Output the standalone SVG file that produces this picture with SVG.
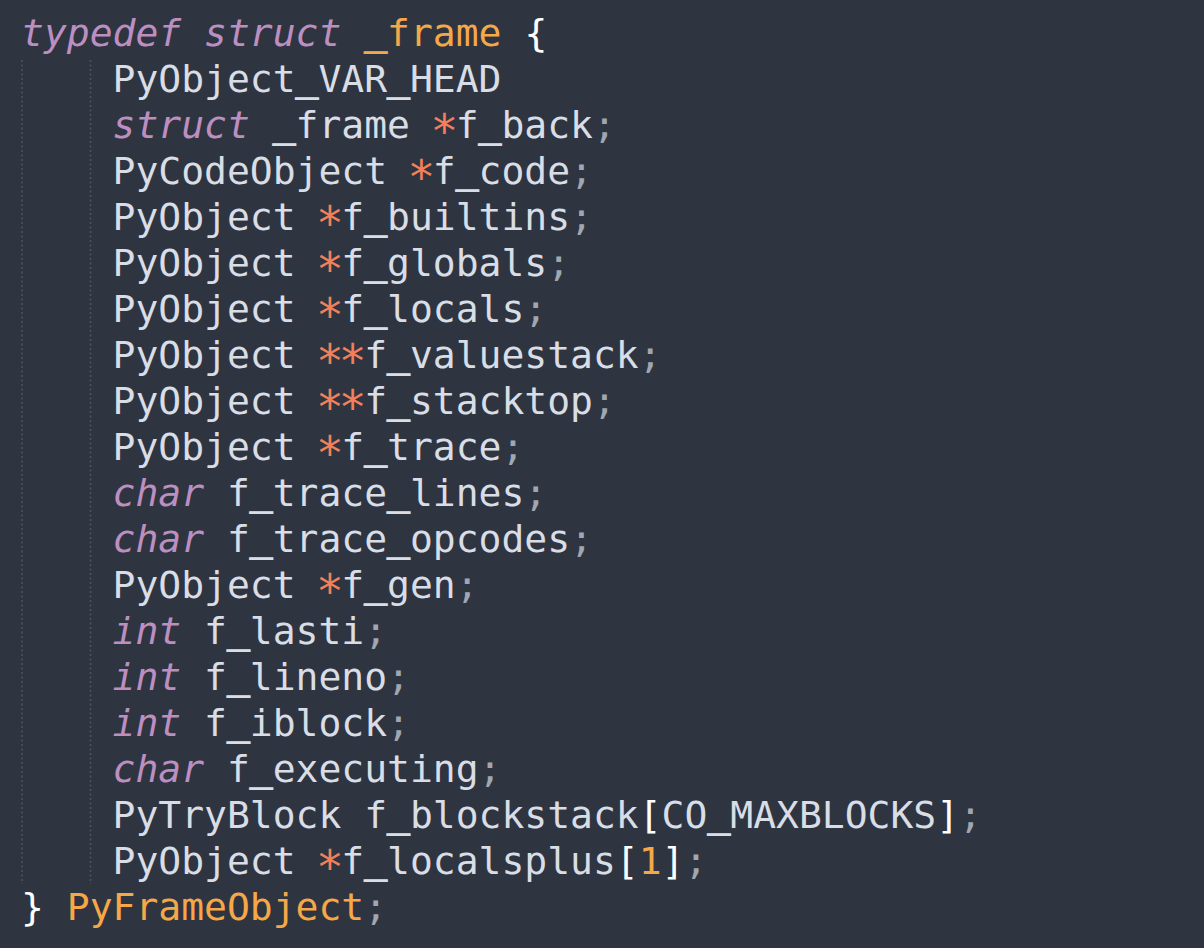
<svg xmlns="http://www.w3.org/2000/svg" width="1204" height="948" viewBox="0 0 1204 948" xml:space="preserve">
<style>
text{font-family:"DejaVu Sans Mono","Liberation Mono",monospace;font-size:38px;fill:#d8dde6;white-space:pre}
.k{fill:#bd8fc1;font-style:italic}
.t{fill:#f6a748}
.p{fill:#f3805a;font-size:46px;baseline-shift:-9px;letter-spacing:-2.43px}
.s{fill:#a0a7b3}
.w{fill:#ffffff}
.u{stroke:#d8dde6;stroke-width:1.4;baseline-shift:2px}
.ut{stroke:#f6a748;stroke-width:1.4;baseline-shift:2px}
.g{stroke:#4d5461;stroke-width:1.5;stroke-dasharray:2 2.5}
</style>
<rect width="1204" height="948" fill="#2f3540"/>
<g id="guides">
<line class="g" x1="22" y1="60" x2="22" y2="884"/>
<line class="g" x1="90.5" y1="60" x2="90.5" y2="884"/>
</g>
<g id="code">
<text x="21" y="46"><tspan class="k">typedef</tspan> <tspan class="k">struct</tspan> <tspan class="t"><tspan class="ut">_</tspan>frame</tspan> <tspan class="w">{</tspan></text>
<text x="112.5" y="92">PyObject<tspan class="u">_</tspan>VAR<tspan class="u">_</tspan>HEAD</text>
<text x="112.5" y="138"><tspan class="k">struct</tspan> <tspan class="u">_</tspan>frame <tspan class="p" dx="-2.4">*</tspan>f<tspan class="u">_</tspan>back<tspan class="s">;</tspan></text>
<text x="112.5" y="184">PyCodeObject <tspan class="p" dx="-2.4">*</tspan>f<tspan class="u">_</tspan>code<tspan class="s">;</tspan></text>
<text x="112.5" y="230">PyObject <tspan class="p" dx="-2.4">*</tspan>f<tspan class="u">_</tspan>builtins<tspan class="s">;</tspan></text>
<text x="112.5" y="276">PyObject <tspan class="p" dx="-2.4">*</tspan>f<tspan class="u">_</tspan>globals<tspan class="s">;</tspan></text>
<text x="112.5" y="322">PyObject <tspan class="p" dx="-2.4">*</tspan>f<tspan class="u">_</tspan>locals<tspan class="s">;</tspan></text>
<text x="112.5" y="368">PyObject <tspan class="p" dx="-2.4 -2.4">**</tspan>f<tspan class="u">_</tspan>valuestack<tspan class="s">;</tspan></text>
<text x="112.5" y="414">PyObject <tspan class="p" dx="-2.4 -2.4">**</tspan>f<tspan class="u">_</tspan>stacktop<tspan class="s">;</tspan></text>
<text x="112.5" y="460">PyObject <tspan class="p" dx="-2.4">*</tspan>f<tspan class="u">_</tspan>trace<tspan class="s">;</tspan></text>
<text x="112.5" y="506"><tspan class="k">char</tspan> f<tspan class="u">_</tspan>trace<tspan class="u">_</tspan>lines<tspan class="s">;</tspan></text>
<text x="112.5" y="552"><tspan class="k">char</tspan> f<tspan class="u">_</tspan>trace<tspan class="u">_</tspan>opcodes<tspan class="s">;</tspan></text>
<text x="112.5" y="598">PyObject <tspan class="p" dx="-2.4">*</tspan>f<tspan class="u">_</tspan>gen<tspan class="s">;</tspan></text>
<text x="112.5" y="644"><tspan class="k">int</tspan> f<tspan class="u">_</tspan>lasti<tspan class="s">;</tspan></text>
<text x="112.5" y="690"><tspan class="k">int</tspan> f<tspan class="u">_</tspan>lineno<tspan class="s">;</tspan></text>
<text x="112.5" y="736"><tspan class="k">int</tspan> f<tspan class="u">_</tspan>iblock<tspan class="s">;</tspan></text>
<text x="112.5" y="782"><tspan class="k">char</tspan> f<tspan class="u">_</tspan>executing<tspan class="s">;</tspan></text>
<text x="112.5" y="828">PyTryBlock f<tspan class="u">_</tspan>blockstack<tspan class="w">[</tspan>CO<tspan class="u">_</tspan>MAXBLOCKS<tspan class="w">]</tspan><tspan class="s">;</tspan></text>
<text x="112.5" y="874">PyObject <tspan class="p" dx="-2.4">*</tspan>f<tspan class="u">_</tspan>localsplus<tspan class="w">[</tspan><tspan class="t">1</tspan><tspan class="w">]</tspan><tspan class="s">;</tspan></text>
<text x="21" y="920"><tspan class="w">}</tspan> <tspan class="t">PyFrameObject</tspan><tspan class="s">;</tspan></text>
</g>
</svg>
